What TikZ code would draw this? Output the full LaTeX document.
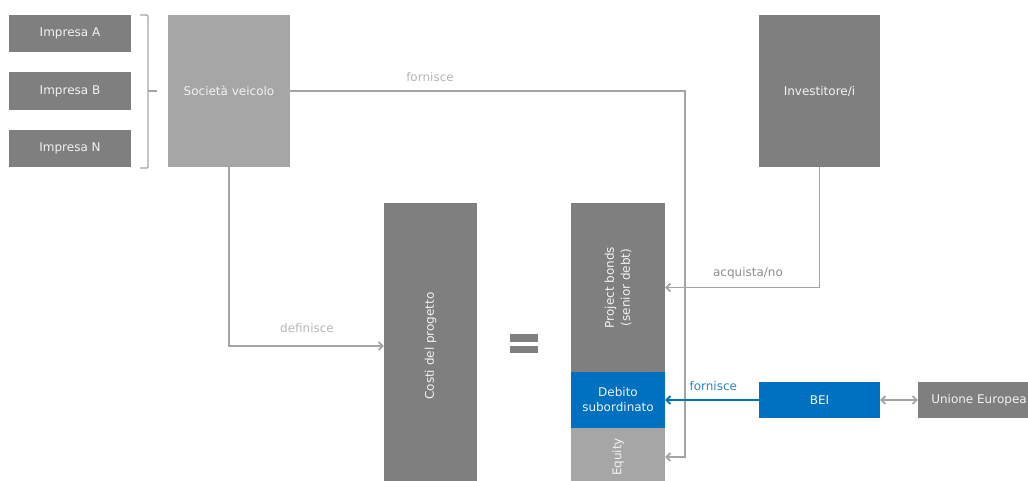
\documentclass[tikz,border=0pt]{standalone}
\usepackage{fontspec}
\setmainfont{DejaVu Sans}
\usetikzlibrary{arrows.meta}
\definecolor{scuro}{HTML}{7F7F7F}
\definecolor{chiaro}{HTML}{A6A6A6}
\definecolor{blu}{HTML}{0070C0}
\definecolor{linea}{HTML}{A4A4A4}
\definecolor{etich}{HTML}{B6B6B6}
\begin{document}
\begin{tikzpicture}[x=1pt,y=-1pt,
  box/.style={inner sep=0pt,text=white!95!black,align=center,font=\fontsize{12}{15}\selectfont},
  darkbox/.style={box,fill=scuro},
  lightbox/.style={box,fill=chiaro},
  bluebox/.style={box,fill=blu},
  vtext/.style={rotate=90,text=white!95!black,align=center,font=\fontsize{12}{16}\selectfont},
  freccia/.style={draw=linea,line width=1.8pt,-{Straight Barb[length=4pt,width=8pt]}},
  etichetta/.style={text=etich,font=\fontsize{12}{14}\selectfont}]
  \useasboundingbox (0,0) rectangle (1028,480);
  \clip (0,0) rectangle (1028,480);
  % imprese e societa veicolo
  \node[darkbox,minimum width=122pt,minimum height=37pt] (impa) at (70,33.5) {Impresa A};
  \node[darkbox,minimum width=122pt,minimum height=38pt] (impb) at (70,91) {Impresa B};
  \node[darkbox,minimum width=122pt,minimum height=37pt] (impn) at (70,148.5) {Impresa N};
  \draw[linea,line width=1.3pt,rounded corners=1pt] (140,15) -- (148,15) -- (148,168) -- (140,168);
  \draw[linea,line width=1.3pt] (148,91) -- (157,91);
  \node[lightbox,minimum width=122pt,minimum height=152pt] (sv) at (229,91) {Società veicolo};
  \node[darkbox,minimum width=121pt,minimum height=152pt] (inv) at (819.5,91) {Investitore/i};
  % costi = fonti
  \node[darkbox,minimum width=93pt,minimum height=286pt] (costi) at (430.5,346) {};
  \node[vtext] (costi-t) at (costi) {Costi del progetto};
  \fill[scuro] (510,334) rectangle (538,342);
  \fill[scuro] (510,346) rectangle (538,353);
  \node[darkbox,minimum width=94pt,minimum height=169pt] (pb) at (618,287.5) {};
  \node[vtext] (pb-t) at (pb) {Project bonds\\(senior debt)};
  \node[bluebox,minimum width=94pt,minimum height=56pt] (deb) at (618,400) {Debito\\subordinato};
  \node[lightbox,minimum width=94pt,minimum height=58pt] (eq) at (618,457) {};
  \node[vtext] (eq-t) at (eq) {Equity};
  \node[bluebox,minimum width=121pt,minimum height=36pt] (bei) at (819.5,400) {BEI};
  \node[darkbox,minimum width=122pt,minimum height=36pt] (ue) at (979,400) {Unione Europea};
  % collegamenti
  \coordinate (giro) at (685,91);
  \draw[freccia] (sv.east) -- (giro) |- (eq.east);
  \node[etichetta] (l-forn) at (430,77) {fornisce};
  \draw[freccia] (inv.south) |- (pb.east);
  \node[etichetta,text=scuro!90] (l-acq) at (748,273) {acquista/no};
  \draw[freccia] (sv.south) |- (costi.west);
  \node[etichetta] (l-def) at (307,328) {definisce};
  \draw[freccia,draw=blu] (bei.west) -- (deb.east);
  \node[etichetta,text=blu!85,anchor=west] (l-blu) at (686,386) {fornisce};
  \draw[freccia,{Straight Barb[length=4pt,width=8pt]}-{Straight Barb[length=4pt,width=8pt]}] (bei.east) -- (ue.west);
\end{tikzpicture}
\end{document}
